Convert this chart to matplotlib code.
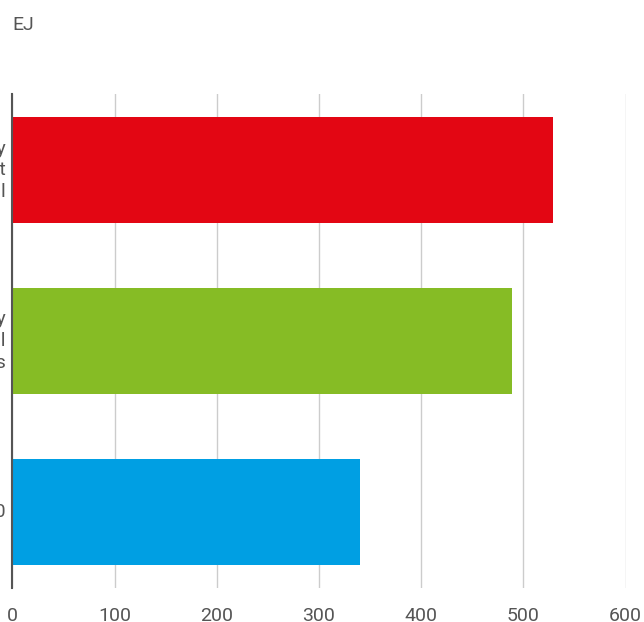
import matplotlib
matplotlib.use("Agg")
import matplotlib.pyplot as plt
import matplotlib.transforms as mtransforms

categories = ["Primary energy\ndemand without\nefficiency potential",
              "Primary energy\ndemand with full\nefficiency gains",
              "Primary energy demand 2010"]
values = [529, 489, 340]
colors = ["#e30613", "#86bc25", "#009fe3"]
xticks = [0, 100, 200, 300, 400, 500, 600]
unit = "EJ"

plt.rcParams['font.family'] = ['Roboto', 'DejaVu Sans']

W, H = 644, 622
fig = plt.figure(figsize=(W/100, H/100), dpi=100)
ax = fig.add_axes([12.5/W, 1-588/H, 613/W, (588-94)/H])

ypos = list(range(len(categories)))
ax.barh(ypos, values, height=0.62, color=colors, zorder=3)
ax.set_ylim(2.447, -0.447)
ax.set_xlim(0, 600)
ax.set_xticks(xticks)
ax.set_xticklabels([str(t) for t in xticks])
ax.tick_params(axis='x', length=0, pad=14, labelsize=14, labelcolor="#555555")
ax.set_yticks([])
ax.grid(axis='x', color="#cccccc", linewidth=1, zorder=0)
for s in ["top", "right", "bottom"]:
    ax.spines[s].set_visible(False)
ax.spines["left"].set_color("#555555")
ax.spines["left"].set_linewidth(1.5)
ax.spines["left"].set_zorder(4)

trans = mtransforms.blended_transform_factory(ax.transAxes, ax.transData)
for y, lab in zip(ypos, categories):
    ax.text(-7/613, y, lab, transform=trans, ha='right', va='center',
            fontsize=14, color="#555555", linespacing=1.25, multialignment='right')

fig.text(12/W, 1-25/H, unit, ha='left', va='center', fontsize=14, color="#555555")

fig.savefig("out.png", dpi=100)
